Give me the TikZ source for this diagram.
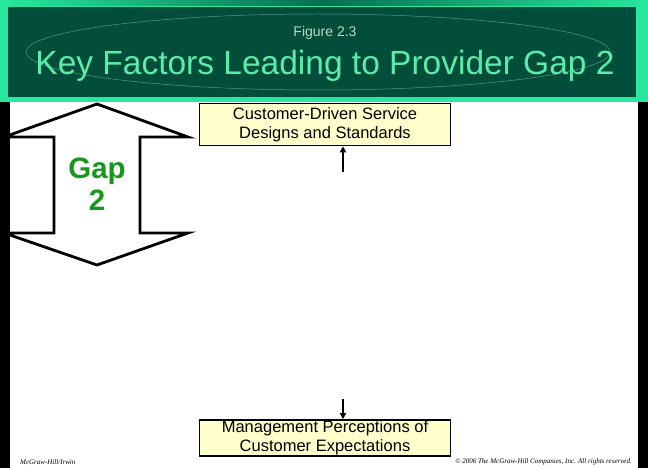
\documentclass[tikz,border=0pt]{standalone}
\usepackage{fontspec}
\setmainfont{Liberation Sans}
\newfontfamily\footfont{Liberation Serif}
\definecolor{tealbright}{RGB}{40,232,160}
\definecolor{tealdark}{RGB}{8,110,80}
\definecolor{innergreen}{RGB}{2,78,58}
\definecolor{titlegreen}{RGB}{90,236,168}
\definecolor{figgray}{RGB}{190,215,200}
\definecolor{gapgreen}{RGB}{24,150,30}
\definecolor{boxyellow}{RGB}{255,255,204}
\tikzset{
  factorbox/.style={draw=black, line width=1.6pt, fill=boxyellow, minimum width=251pt, align=center, font=\fontsize{16.5}{19}\selectfont, inner sep=0pt},
  flowarrow/.style={-{Triangle[length=6pt,width=6pt]}, line width=2.4pt},
  footnote/.style={font=\footfont\itshape\fontsize{7}{8}\selectfont, inner sep=0pt}
}
\usetikzlibrary{arrows.meta}
\begin{document}
\begin{tikzpicture}[x=1pt,y=-1pt]
\useasboundingbox (0,0) rectangle (648,468);
\fill[white] (0,0) rectangle (648,468);
% side borders
\fill[black] (0,100) rectangle (10,468);
\fill[black] (638,100) rectangle (648,468);
% header
\fill[tealbright] (0,0) rectangle (648,102);
\shade[left color=tealbright, right color=tealbright, middle color=tealdark] (0,0) rectangle (648,6);
\fill[innergreen] (8,7) rectangle (636,97);
\draw[tealdark!70!white, line width=0.5pt] (318,52) ellipse [x radius=292, y radius=38];
\node[text=figgray, font=\fontsize{14}{16}\selectfont, inner sep=0pt] (figlabel) at (325,33) {Figure 2.3};
\node[text=titlegreen, font=\fontsize{33.5}{40}\selectfont, inner sep=0pt] (title) at (325,66) {Key Factors Leading to Provider Gap 2};
% gap double arrow
\draw[line width=2.8pt, fill=white, line join=miter]
  (97,104) -- (188,137) -- (140,137) -- (140,233) -- (188,233) -- (97,265)
  -- (4,233) -- (54,233) -- (54,137) -- (4,137) -- cycle;
\fill[black] (0,102) rectangle (10,268);
\node[text=gapgreen, font=\bfseries\fontsize{29.5}{32}\selectfont, align=center, inner sep=0pt] (gap) at (97,184) {Gap\\2};
% boxes
\node[factorbox, minimum height=42pt] (top) at (325,124.5) {Customer-Driven Service\\Designs and Standards};
\node[factorbox, minimum height=36pt] (bottom) at (325,438) {Management Perceptions of\\Customer Expectations};
\coordinate (topstart) at (343,172);
\coordinate (botstart) at (343,399);
\draw[flowarrow] (topstart) -- (topstart |- top.south);
\draw[flowarrow] (botstart) -- (botstart |- bottom.north);
% footer
\node[footnote, anchor=west] (mcg) at (20,462) {McGraw-Hill/Irwin};
\node[footnote, anchor=east] (copy) at (632,462) {\textcopyright{} 2006 The McGraw-Hill Companies, Inc. All rights reserved.};
\end{tikzpicture}
\end{document}
